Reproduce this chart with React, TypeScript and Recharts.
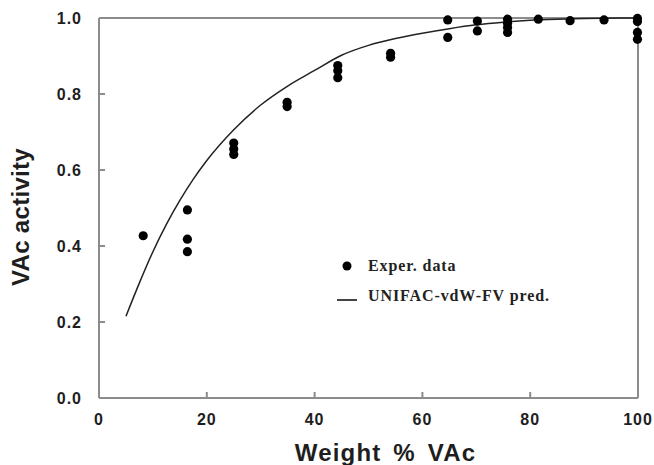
import React from 'react';
import { ComposedChart, Line, Scatter, XAxis, YAxis, Legend, ReferenceLine } from 'recharts';

// experimental points (weight % VAc vs. VAc activity)
const expWt = [8.2, 16.4, 16.4, 16.4, 25, 25, 25, 34.9, 34.9, 44.3, 44.3, 44.3, 54.1, 54.1, 64.7, 64.7, 70.2, 70.2, 75.8, 75.8, 75.8, 75.8, 81.5, 87.4, 93.7, 99.9, 99.9, 99.9, 99.9];
const expAct = [0.427, 0.495, 0.418, 0.385, 0.671, 0.655, 0.641, 0.778, 0.767, 0.875, 0.861, 0.843, 0.907, 0.897, 0.995, 0.949, 0.992, 0.966, 0.997, 0.986, 0.975, 0.962, 0.997, 0.993, 0.995, 0.999, 0.991, 0.962, 0.944];

// UNIFAC-vdW-FV prediction
const predWt = [5, 7.5, 10, 12.5, 15, 17.5, 20, 25, 30, 35, 40, 45, 50, 55, 60, 65, 70, 75, 80, 85, 90, 100];
const predAct = [0.215, 0.303, 0.385, 0.457, 0.52, 0.576, 0.625, 0.706, 0.771, 0.821, 0.862, 0.902, 0.928, 0.946, 0.96, 0.972, 0.982, 0.989, 0.994, 0.997, 0.999, 1.0];

const xTicks = [0, 20, 40, 60, 80, 100];
const yTicks = [0, 0.2, 0.4, 0.6, 0.8, 1.0];

const expData = expWt.map((x, i) => ({ x, y: expAct[i] }));
const predData = predWt.map((x, i) => ({ x, y: predAct[i] }));

const axisGray = '#8c8c8c';
const textColor = '#1e1e1e';
const sans = '"Liberation Sans", Arial, sans-serif';
const tickFont = { fontFamily: sans, fontWeight: 'bold', fontSize: 16, fill: textColor, letterSpacing: 1 };

const X_GAP = 16;
const Y_GAP = 17;
const TICK_LEN = 6;

// tick label plus a short tick pointing into the plot
const XTick = (props: any) => {
  const { x, y, payload } = props;
  const axisY = y - X_GAP;
  return (
    <g>
      <line x1={x} x2={x} y1={axisY} y2={axisY - TICK_LEN} stroke={axisGray} strokeWidth={2} />
      <text x={x} y={y} dy="0.71em" textAnchor="middle" style={tickFont}>{payload.value}</text>
    </g>
  );
};

const YTick = (props: any) => {
  const { x, y, payload } = props;
  const axisX = x + Y_GAP;
  return (
    <g>
      <line x1={axisX} x2={axisX + TICK_LEN} y1={y} y2={y} stroke={axisGray} strokeWidth={2} />
      <text x={x} y={y} dy="0.355em" textAnchor="end" style={tickFont}>{Number(payload.value).toFixed(1)}</text>
    </g>
  );
};

const XTitle = (props: any) => {
  const { viewBox } = props;
  return (
    <text
      x={viewBox.x + viewBox.width / 2 + 17}
      y={viewBox.y + viewBox.height - 4}
      textAnchor="middle"
      style={{ fontFamily: sans, fontWeight: 'bold', fontSize: 24, fill: textColor, letterSpacing: 1.2, wordSpacing: 4 }}
    >
      Weight % VAc
    </text>
  );
};

const YTitle = (props: any) => {
  const { viewBox } = props;
  return (
    <text
      transform={`translate(29, ${viewBox.y + viewBox.height / 2 + 9}) rotate(-90)`}
      textAnchor="middle"
      style={{ fontFamily: sans, fontWeight: 'bold', fontSize: 24, fill: textColor, letterSpacing: 0.3 }}
    >
      VAc activity
    </text>
  );
};

const legendText = { fontFamily: '"Liberation Serif", "Times New Roman", serif', fontWeight: 'bold' as const, fontSize: 16, color: '#222', letterSpacing: 0.9 };

const LegendBox = () => (
  <div style={{ position: 'absolute', left: 336, top: 256, width: 260 }}>
    <div style={{ display: 'flex', alignItems: 'center', height: 20 }}>
      <svg width={32} height={20}>
        <circle cx={11} cy={10} r={4.5} fill="#000" />
      </svg>
      <span style={legendText}>Exper. data</span>
    </div>
    <div style={{ display: 'flex', alignItems: 'center', height: 20, marginTop: 10 }}>
      <svg width={32} height={20}>
        <line x1={1} x2={21} y1={14} y2={14} stroke="#444" strokeWidth={2} />
      </svg>
      <span style={legendText}>UNIFAC-vdW-FV pred.</span>
    </div>
  </div>
);

const Dot = (props: any) => <circle cx={props.cx} cy={props.cy} r={4.6} fill="#000" />;

export default function App() {
  return (
    <div style={{ position: 'absolute', left: 0, top: 0, width: 654, height: 465, background: '#fff' }}>
      <ComposedChart width={654} height={465} margin={{ top: 18, right: 16, bottom: 0, left: 0 }}>
        <XAxis
          type="number"
          dataKey="x"
          domain={[0, 100]}
          ticks={xTicks}
          height={67}
          tickSize={0}
          tickMargin={X_GAP}
          tick={<XTick />}
          tickLine={false}
          axisLine={{ stroke: axisGray, strokeWidth: 2 }}
          label={<XTitle />}
        />
        <YAxis
          type="number"
          dataKey="y"
          domain={[0, 1]}
          ticks={yTicks}
          width={99}
          tickSize={0}
          tickMargin={Y_GAP}
          tick={<YTick />}
          tickLine={false}
          axisLine={{ stroke: axisGray, strokeWidth: 2 }}
          label={<YTitle />}
        />
        <ReferenceLine y={1} stroke={axisGray} strokeWidth={2} />
        <ReferenceLine x={100} stroke={axisGray} strokeWidth={2} />
        <Line
          data={predData}
          dataKey="y"
          type="monotone"
          stroke="#222"
          strokeWidth={1.5}
          dot={false}
          activeDot={false}
          isAnimationActive={false}
        />
        <Scatter data={expData} dataKey="y" shape={<Dot />} isAnimationActive={false} />
        <Legend layout="vertical" align="center" verticalAlign="middle" content={() => <LegendBox />} wrapperStyle={{ position: 'absolute', left: 0, top: 0, width: 0, height: 0 }} />
      </ComposedChart>
    </div>
  );
}
